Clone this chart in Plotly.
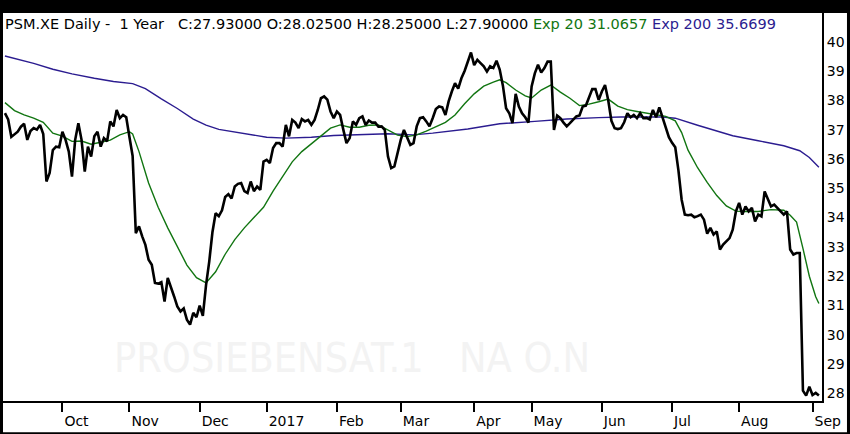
import pandas as pd
import plotly.graph_objects as go

# Xetra trading days shown on the chart (1 year, daily bars)
holidays = ["2016-12-26", "2017-04-14", "2017-04-17", "2017-05-01"]
dates = [d.strftime("%Y-%m-%d") for d in pd.bdate_range("2016-09-07", "2017-09-05")
         if d.strftime("%Y-%m-%d") not in holidays]

close = [
    37.56, 37.35, 36.75, 36.85, 36.93, 37.10, 37.20, 36.65, 36.95, 37.05,
    37.00, 37.16, 36.85, 35.23, 35.52, 36.30, 36.42, 36.40, 36.93, 36.65,
    36.25, 35.40, 36.65, 37.22, 36.65, 35.57, 36.42, 36.08, 36.77, 36.93,
    36.42, 36.71, 36.60, 37.28, 37.11, 37.67, 37.39, 37.50, 37.42, 36.75,
    36.10, 33.47, 33.70, 33.36, 33.07, 32.56, 32.39, 31.77, 31.75, 31.80,
    31.14, 31.94, 31.65, 31.31, 30.97, 30.80, 30.90, 30.52, 30.35, 30.75,
    30.60, 31.00, 30.65, 31.70, 32.50, 33.50, 34.15, 34.05, 34.25, 34.70,
    34.80, 34.65, 35.06, 35.15, 35.18, 34.90, 34.84, 35.23, 34.90, 35.06,
    34.95, 35.91, 35.97, 35.86, 36.37, 36.54, 36.54, 36.42, 37.16, 36.77,
    37.33, 37.24, 37.05, 37.36, 37.28, 37.33, 37.16, 37.33, 37.67, 38.07,
    38.13, 38.02, 37.62, 37.39, 37.62, 37.50, 37.00, 36.54, 36.71, 37.28,
    37.16, 37.39, 37.45, 37.16, 37.31, 37.24, 37.24, 37.10, 37.11, 36.99,
    36.08, 35.69, 35.75, 36.20, 36.65, 36.99, 36.71, 36.48, 36.54, 37.11,
    37.39, 37.42, 37.28, 37.11, 37.39, 37.70, 37.79, 37.76, 37.50, 37.96,
    38.30, 38.58, 38.40, 38.75, 39.00, 39.32, 39.63, 39.20, 39.38, 39.27,
    39.16, 38.98, 39.16, 39.10, 39.35, 39.05, 38.50, 37.73, 37.56, 37.22,
    38.22, 37.79, 37.56, 37.42, 37.24, 38.47, 38.92, 39.21, 38.95, 39.10,
    39.32, 39.32, 36.99, 37.48, 37.39, 37.24, 37.11, 37.22, 37.33, 37.45,
    37.48, 37.79, 37.82, 38.13, 38.38, 38.38, 38.01, 38.30, 38.52, 38.00,
    37.30, 37.05, 37.02, 37.05, 37.25, 37.56, 37.42, 37.50, 37.39, 37.56,
    37.39, 37.40, 37.35, 37.67, 37.42, 37.76, 37.42, 37.11, 36.74, 36.55,
    36.40, 35.60, 34.61, 34.10, 34.08, 34.10, 34.01, 34.05, 34.10, 33.93,
    33.45, 33.65, 33.42, 33.53, 32.91, 33.08, 33.19, 33.30, 33.59, 34.21,
    34.50, 34.10, 34.38, 34.21, 34.33, 33.87, 34.10, 34.04, 34.89, 34.61,
    34.38, 34.44, 34.33, 34.21, 34.10, 34.21, 32.91, 32.74, 32.79, 32.79,
    28.10, 27.93, 28.23, 27.95, 28.02, 27.93,
]

# exponential moving averages at these bar positions
ema20_idx = [0, 3, 6, 9, 12, 15, 18, 21, 24, 27, 30, 33, 36, 39, 40, 42, 45, 48, 51, 54,
             57, 60, 63, 66, 69, 72, 75, 78, 81, 84, 87, 90, 93, 96, 99, 102, 105, 108, 111, 114,
             117, 120, 123, 126, 129, 132, 135, 138, 141, 144, 147, 150, 153, 155, 157, 160, 163, 165, 168, 171,
             174, 177, 180, 183, 186, 189, 192, 195, 198, 201, 204, 207, 210, 212, 214, 217, 220, 223, 226, 229,
             232, 236, 240, 244, 246, 248, 250, 252, 254, 255]
ema20 = [37.92, 37.65, 37.50, 37.39, 37.25, 36.88, 36.78, 36.60, 36.61, 36.50,
         36.57, 36.64, 36.82, 36.93, 36.85, 36.25, 35.18, 34.35, 33.65, 33.00,
         32.38, 31.95, 31.77, 32.15, 32.75, 33.25, 33.65, 34.00, 34.35, 34.90,
         35.42, 35.90, 36.25, 36.52, 36.80, 37.05, 37.16, 37.08, 37.08, 37.15,
         37.16, 36.99, 36.81, 36.76, 36.82, 36.95, 37.10, 37.25, 37.50, 37.88,
         38.22, 38.48, 38.62, 38.70, 38.60, 38.35, 38.15, 38.08, 38.35, 38.52,
         38.28, 38.07, 37.82, 37.87, 37.95, 38.04, 37.80, 37.68, 37.62, 37.56,
         37.52, 37.45, 37.30, 36.90, 36.30, 35.70, 35.20, 34.75, 34.40, 34.22,
         34.21, 34.21, 34.27, 34.25, 34.08, 33.85, 32.95, 32.00, 31.30, 31.07]

ema200_idx = [0, 9, 15, 21, 28, 34, 40, 44, 49, 54, 59, 63, 67, 72, 78, 82, 88, 96, 103, 111,
              120, 128, 134, 145, 155, 166, 176, 186, 193, 206, 210, 217, 221, 228, 236, 244, 249, 252, 255]
ema200 = [39.51, 39.26, 39.06, 38.90, 38.75, 38.64, 38.57, 38.40, 38.05, 37.72,
          37.36, 37.15, 37.01, 36.92, 36.79, 36.74, 36.71, 36.74, 36.80, 36.84,
          36.86, 36.82, 36.88, 37.02, 37.20, 37.28, 37.36, 37.41, 37.43, 37.43,
          37.39, 37.15, 37.02, 36.79, 36.62, 36.45, 36.28, 36.05, 35.72]

month_starts = ["2016-10-03", "2016-11-01", "2016-12-01", "2017-01-02", "2017-02-01", "2017-03-01",
                "2017-04-03", "2017-05-02", "2017-06-01", "2017-07-03", "2017-08-01", "2017-09-01"]
month_labels = ["Oct", "Nov", "Dec", "2017", "Feb", "Mar", "Apr", "May", "Jun", "Jul", "Aug", "Sep"]
price_ticks = list(range(28, 41))

GREEN = "#117511"
BLUE = "#2b1c90"
FONT = "DejaVu Sans"

fig = go.Figure()
fig.add_trace(go.Scatter(x=[dates[i] for i in ema200_idx], y=ema200, mode="lines",
                         line=dict(color=BLUE, width=1.4), name="Exp 200"))
fig.add_trace(go.Scatter(x=[dates[i] for i in ema20_idx], y=ema20, mode="lines",
                         line=dict(color=GREEN, width=1.4), name="Exp 20"))
fig.add_trace(go.Scatter(x=dates, y=close, mode="lines",
                         line=dict(color="black", width=2.6), name="PSM.XE"))

sp = "&nbsp;"
header = (f"PSM.XE Daily -{sp*2}1 Year{sp*3}C:27.93000 O:28.02500 H:28.25000 L:27.90000 "
          f"<span style='color:{GREEN}'>Exp 20 31.0657</span> "
          f"<span style='color:{BLUE}'>Exp 200 35.6699</span>")
fig.add_annotation(text=header, xref="paper", yref="paper", x=0.0, y=0.9716,
                   xanchor="left", yanchor="middle", showarrow=False,
                   font=dict(family=FONT, size=14.5, color="black"))
fig.add_annotation(text=f"PROSIEBENSAT.1{sp*2} NA O.N", xref="paper", yref="paper",
                   x=0.426, y=0.111, xanchor="center", yanchor="middle", showarrow=False,
                   font=dict(family="DejaVu Sans Condensed, Liberation Sans Narrow, sans-serif",
                             size=41, color="#f3f3f3"))

# black frame round the picture
frame = [(-0.004, 1.0, 1.035, 1.04), (-0.004, -0.09, 0.0, 1.04),
         (1.0305, -0.09, 1.035, 1.04), (-0.004, -0.09, 1.035, -0.0805)]
for x0, y0, x1, y1 in frame:
    fig.add_shape(type="rect", xref="paper", yref="paper", x0=x0, y0=y0, x1=x1, y1=y1,
                  fillcolor="black", line=dict(width=0), layer="above")

fig.update_layout(
    width=850, height=434,
    margin=dict(l=3, r=28, t=13, b=33),
    paper_bgcolor="white", plot_bgcolor="white",
    showlegend=False,
    font=dict(family=FONT, size=14, color="black"),
    xaxis=dict(type="category", categoryorder="array", categoryarray=dates,
               range=[-0.61, 255.97], showgrid=False, zeroline=False,
               showline=True, linecolor="black", linewidth=2,
               tickvals=month_starts, ticktext=month_labels, tickangle=0,
               ticks="outside", ticklen=9, tickwidth=2, tickcolor="black",
               ticklabelposition="outside right", ticklabelstandoff=6,
               tickfont=dict(size=14)),
    yaxis=dict(side="right", range=[27.745, 40.977], showgrid=False, zeroline=False,
               showline=True, linecolor="black", linewidth=2,
               tickvals=price_ticks, ticks="", ticklabelstandoff=0, tickfont=dict(size=14)),
)

fig.write_html("out.html", config={"displayModeBar": False},
               post_script="document.body.style.margin='0';")
